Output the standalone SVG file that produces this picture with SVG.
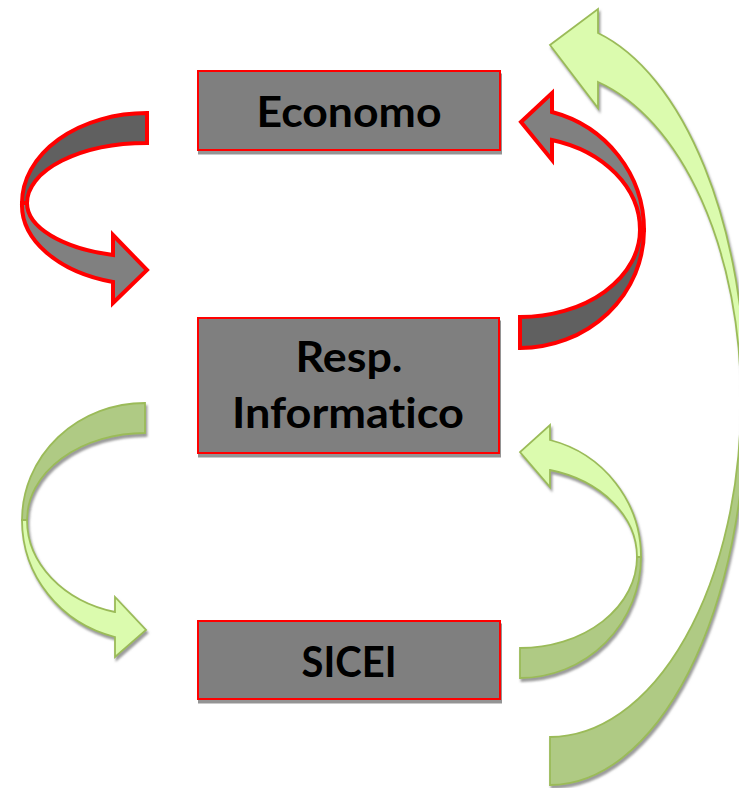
<svg xmlns="http://www.w3.org/2000/svg" width="739" height="788" viewBox="0 0 739 788">
<style>
.box{fill:#7f7f7f;stroke:#ff0000;stroke-width:2}
.lbl{font-family:Lato,"Open Sans","Liberation Sans",sans-serif;font-weight:bold;font-size:42px;fill:#000;text-anchor:middle;font-variant-ligatures:none;font-feature-settings:"liga" 0,"clig" 0}
.rback{fill:#606060;stroke:#ff0000;stroke-width:4;stroke-linejoin:miter}
.rfront{fill:#808080;stroke:#ff0000;stroke-width:4;stroke-linejoin:miter}
.gback{fill:#afca84;stroke:#9bbb59;stroke-width:1.8}
.gfront{fill:#dbfbae;stroke:#9bbb59;stroke-width:1.8}
</style>
<defs>
<filter id="sh" x="-10%" y="-10%" width="130%" height="130%">
<feDropShadow dx="1.5" dy="3" stdDeviation="0.8" flood-color="#7a7a7a" flood-opacity="0.75"/>
</filter>
<filter id="bsh" x="-5%" y="-5%" width="115%" height="120%">
<feDropShadow dx="1" dy="3.5" stdDeviation="0.5" flood-color="#888" flood-opacity="0.9"/>
</filter>
</defs>
<g id="connectors">
<g id="arrow-big-green" filter="url(#sh)">
<path class="gback" d="M550,785 A196,385 0 0 0 746,400 L741,400 A191,337 0 0 1 550,737 Z"/>
<path class="gfront" d="M746,400 A196,378.5 0 0 0 598,33 L598,9 L550,45 L598,108 L598,82 A191,328.5 0 0 1 741,400 Z"/>
</g>
<g id="arrow-red-left">
<path class="rback" d="M147,113 A125,90 0 0 0 22,203 L27,203 A120,60 0 0 1 147,143 Z"/>
<path class="rfront" d="M22,203 A125,80 0 0 0 113,282 L113,303 L147,270 L113,235 L113,255 A120,54 0 0 1 27,203 Z"/>
</g>
<g id="arrow-red-right">
<path class="rback" d="M520,348 A124,118 0 0 0 644,230 L640,230 A120,87 0 0 1 520,317 Z"/>
<path class="rfront" d="M644,230 A124,122 0 0 0 552,112 L552,93 L521,122 L552,160 L552,140 A120,93 0 0 1 640,230 Z"/>
</g>
<g id="arrow-green-left" filter="url(#sh)">
<path class="gback" d="M145,403 A123,117 0 0 0 22,520 L27,520 A118,87 0 0 1 145,433 Z"/>
<path class="gfront" d="M22,520 A123,120.6 0 0 0 115,637 L115,657 L146,630 L115,597 L115,612 A118,95 0 0 1 27,520 Z"/>
</g>
<g id="arrow-green-right" filter="url(#sh)">
<path class="gback" d="M520,678 A121,121 0 0 0 641,557 L637,557 A117,91 0 0 1 520,648 Z"/>
<path class="gfront" d="M641,557 A121,120.7 0 0 0 550,440 L550,425 L520,452 L550,487 L550,470 A117,90 0 0 1 637,557 Z"/>
</g>
</g>
<g id="node-economo">
<rect class="box" x="198" y="71" width="302" height="79" filter="url(#bsh)"/>
<text class="lbl" x="349" y="127" textLength="185" lengthAdjust="spacingAndGlyphs">Economo</text>
</g>
<g id="node-resp">
<rect class="box" x="198" y="318" width="301" height="135" filter="url(#bsh)"/>
<text class="lbl" x="349" y="372" textLength="107" lengthAdjust="spacingAndGlyphs">Resp.</text>
<text class="lbl" x="348" y="428" textLength="232" lengthAdjust="spacingAndGlyphs">Informatico</text>
</g>
<g id="node-sicei">
<rect class="box" x="198" y="621" width="302" height="78" filter="url(#bsh)"/>
<text class="lbl" x="349" y="677" textLength="95" lengthAdjust="spacingAndGlyphs">SICEI</text>
</g>
</svg>
